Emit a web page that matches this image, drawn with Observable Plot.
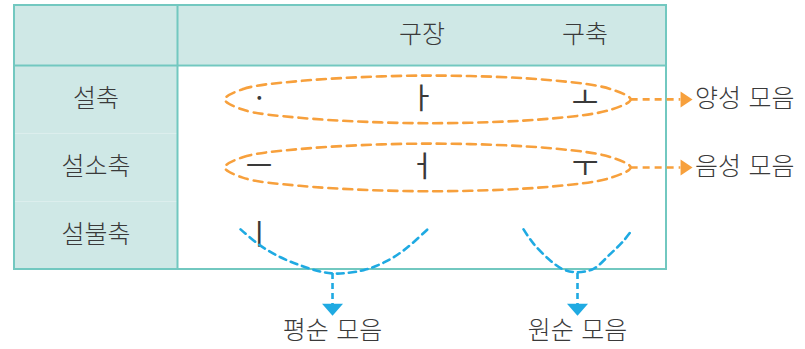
<!DOCTYPE html>
<html><head><meta charset="utf-8">
<script src="https://cdn.jsdelivr.net/npm/d3@7"></script>
<script src="https://cdn.jsdelivr.net/npm/@observablehq/plot@0.6"></script>
<style>html,body{margin:0;padding:0;background:#fff} svg{display:block} svg text{word-spacing:2px}</style>
</head><body><div id="chart"></div>
<script>
// ---- data ----
const columnHeaders = ["", "", "구장", "구축"];
const rowLabels = ["설축", "설소축", "설불축"];
const vowelRows = [["ㆍ", "ㅏ", "ㅗ"], ["ㅡ", "ㅓ", "ㅜ"], ["ㅣ", "", ""]];
const harmonyLabels = ["양성 모음", "음성 모음"];      // rows 0 and 1
const roundLabels = ["평순 모음", "원순 모음"];
// dashed ellipse outline (column units, offset from the row centre)
const ellipseU = [1.29, 1.40, 1.75, 2.53, 3.30, 3.66, 3.78, 3.66, 3.30, 2.53, 1.75, 1.40];
const ellipseDV = [0, -0.15, -0.27, -0.35, -0.28, -0.15, 0, 0.15, 0.28, 0.35, 0.27, 0.15];
// dashed blue arcs (column units / row units)
const arcPlainU = [1.387, 1.509, 1.632, 1.755, 1.877, 1.982, 2.141, 2.264, 2.387, 2.534];
const arcPlainV = [2.41, 2.65, 2.82, 2.94, 3.03, 3.06, 3.01, 2.90, 2.72, 2.41];
const arcRoundU = [3.123, 3.184, 3.288, 3.368, 3.454, 3.552, 3.656, 3.736, 3.791];
const arcRoundV = [2.41, 2.62, 2.87, 3.00, 3.04, 2.99, 2.77, 2.58, 2.41];
const arcVertexU = [1.951, 3.454];

// ---- style ----
const TEAL_BG = "#cfe8e6", TEAL_LINE = "#72c8c0", ORANGE = "#f7a03c", BLUE = "#1faae2", INK = "#3a3a3a";
const FONT = "Noto Sans CJK KR";
const HEADER_TOP = -0.88, ROWS = rowLabels.length, COLS = columnHeaders.length;

const rightTri = {draw(c) { c.moveTo(6, 0); c.lineTo(-6, -8); c.lineTo(-6, 8); c.closePath(); }};
const downTri = {draw(c) { c.moveTo(0, 6); c.lineTo(-10.5, -6); c.lineTo(10.5, -6); c.closePath(); }};

// ---- tables built from the arrays ----
const bgCells = [
  {x1: 0, x2: COLS, y1: HEADER_TOP, y2: 0, fill: TEAL_BG},
  {x1: 0, x2: 1, y1: 0, y2: ROWS, fill: TEAL_BG},
  {x1: 1, x2: COLS, y1: 0, y2: ROWS, fill: "#ffffff"}
];
const headerText = columnHeaders.map((t, i) => ({t, x: i + 0.5, y: HEADER_TOP / 2})).filter(d => d.t);
const labelText = rowLabels.map((t, i) => ({t, x: 0.5, y: i + 0.5}));
const vowelText = vowelRows.flatMap((r, i) => r.map((t, j) => ({t, x: j + 1.5, y: i + 0.5}))).filter(d => d.t);
const ellipses = harmonyLabels.flatMap((lab, i) => ellipseU.map((u, k) => ({z: i, x: u, y: i + 0.5 + ellipseDV[k]})));
const tipU = ellipseU[6];
const harmonyArrows = harmonyLabels.map((t, i) => ({t, y: i + 0.5, x1: tipU, x2: 4.085, head: 4.123, lx: 4.175}));
const arcs = [[arcPlainU, arcPlainV], [arcRoundU, arcRoundV]].flatMap(([us, vs], i) => us.map((u, k) => ({z: i, x: u, y: vs[k]})));
const roundArrows = roundLabels.map((t, i) => ({t, x: arcVertexU[i], y1: 3.05, y2: 3.51, head: 3.59, ly: 3.90}));

const textOpts = {fontFamily: FONT, fontSize: 25, fontWeight: 300, fill: INK, text: "t", letterSpacing: "1.2px"};

const chart = Plot.plot({
  width: 805, height: 349, margin: 0,
  style: {background: "#fff", overflow: "visible"},
  x: {type: "linear", domain: [0, COLS], range: [14, 666], axis: null},
  y: {type: "linear", domain: [HEADER_TOP, ROWS], range: [5, 269], axis: null},
  marks: [
    Plot.rect(bgCells, {x1: "x1", x2: "x2", y1: "y1", y2: "y2", fill: d => d.fill}),
    Plot.ruleY([1, 2], {x1: 0, x2: 1, stroke: "#ffffff", strokeOpacity: 0.3, strokeWidth: 1}),
    Plot.ruleY([0], {x1: 0, x2: COLS, stroke: TEAL_LINE, strokeWidth: 2}),
    Plot.ruleX([1], {y1: HEADER_TOP, y2: ROWS, stroke: TEAL_LINE, strokeWidth: 2}),
    Plot.rect([bgCells[0]], {x1: 0, x2: COLS, y1: HEADER_TOP, y2: ROWS, fill: "none", stroke: TEAL_LINE, strokeWidth: 2}),
    Plot.text(headerText, {...textOpts, x: "x", y: "y"}),
    Plot.text(labelText, {...textOpts, x: "x", y: "y"}),
    Plot.text(vowelText, {...textOpts, fontSize: 29, fontWeight: 400, letterSpacing: null, x: "x", y: "y"}),
    // orange: yang / yin vowel groups
    Plot.line(ellipses, {x: "x", y: "y", z: "z", curve: "catmull-rom-closed", stroke: ORANGE, strokeWidth: 2.6, strokeDasharray: "9,6", fill: "none"}),
    Plot.link(harmonyArrows, {x1: "x1", x2: "x2", y1: "y", y2: "y", stroke: ORANGE, strokeWidth: 2.6, strokeDasharray: "7,5"}),
    Plot.dot(harmonyArrows, {x: "head", y: "y", r: 5, symbol: rightTri, fill: ORANGE, stroke: "none"}),
    Plot.text(harmonyArrows, {...textOpts, x: "lx", y: "y", textAnchor: "start"}),
    // blue: unrounded / rounded vowel groups
    Plot.line(arcs, {x: "x", y: "y", z: "z", curve: "catmull-rom", stroke: BLUE, strokeWidth: 2.6, strokeDasharray: "7,5", fill: "none"}),
    Plot.link(roundArrows, {x1: "x", x2: "x", y1: "y1", y2: "y2", stroke: BLUE, strokeWidth: 2.6, strokeDasharray: "6,4"}),
    Plot.dot(roundArrows, {x: "x", y: "head", r: 5, symbol: downTri, fill: BLUE, stroke: "none"}),
    Plot.text(roundArrows, {...textOpts, x: "x", y: "ly"})
  ]
});
document.getElementById("chart").appendChild(chart);
</script>
</body></html>
